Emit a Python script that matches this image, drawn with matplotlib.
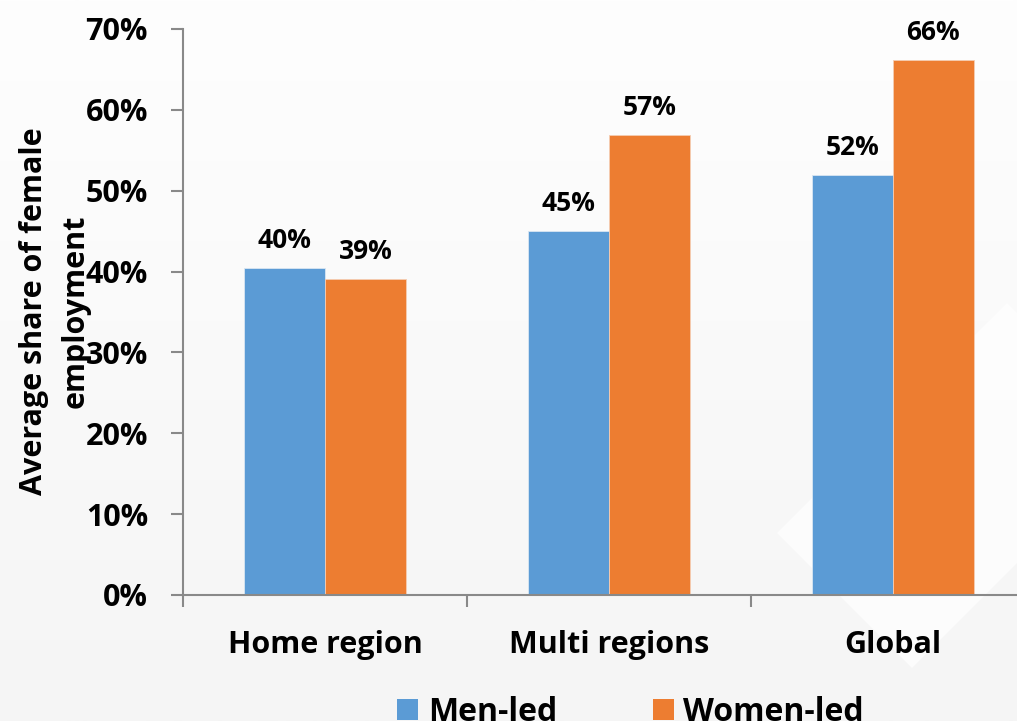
import matplotlib.pyplot as plt
from matplotlib.patches import Polygon, Patch
import numpy as np

categories = ["Home region", "Multi regions", "Global"]
men_led = [0.404, 0.450, 0.519]
women_led = [0.391, 0.569, 0.662]
series_names = ["Men-led", "Women-led"]
y_ticks = [0, 0.1, 0.2, 0.3, 0.4, 0.5, 0.6, 0.7]

blue = "#5B9BD5"
orange = "#ED7D31"
axis_gray = "#898989"
label_font = ["Open Sans", "DejaVu Sans"]

fig = plt.figure(figsize=(10.17, 7.21), dpi=100)

# soft grey backdrop with a faint white diamond on the right
bg = fig.add_axes([0, 0, 1, 1], zorder=-10)
grad = np.linspace(0, 1, 256).reshape(-1, 1)
bg.imshow(grad, cmap=plt.matplotlib.colors.LinearSegmentedColormap.from_list(
    "bg", ["#fefefe", "#f5f5f5"]), aspect="auto", extent=[0, 1017, 721, 0])
bg.add_patch(Polygon([[777, 533], [1007, 303], [1142, 438], [912, 668]],
                     closed=True, facecolor="white", edgecolor="none", alpha=0.7))
bg.set_xlim(0, 1017)
bg.set_ylim(721, 0)
bg.axis("off")

ax = fig.add_axes([0.1804, 0.1748, 0.8369, 0.785])
ax.patch.set_alpha(0)

x = np.arange(len(categories))
w = 0.2855
b1 = ax.bar(x - w / 2, men_led, w, color=blue, edgecolor="#d9e6f2", linewidth=0.6)
b2 = ax.bar(x + w / 2, women_led, w, color=orange, edgecolor="#f5cdb3", linewidth=0.6)

for bars in (b1, b2):
    for rect in bars:
        v = rect.get_height()
        ax.annotate(f"{v * 100:.0f}%", (rect.get_x() + rect.get_width() / 2, v),
                    xytext=(0, 10), textcoords="offset points",
                    ha="center", va="bottom", fontsize=19, fontweight="bold",
                    family=label_font)

ax.set_xlim(-0.5, 2.5)
ax.set_ylim(0, 0.7)
ax.set_yticks(y_ticks)
ax.set_yticklabels([f"{int(round(t * 100))}%" for t in y_ticks],
                   fontsize=22, fontweight="bold", family=label_font)
ax.tick_params(axis="y", length=8.5, width=1.5, color=axis_gray, pad=17)

# category boundary ticks and centred category names
ax.set_xticks([-0.5, 0.5, 1.5, 2.5])
ax.set_xticklabels([])
ax.tick_params(axis="x", which="major", length=8.5, width=1.5, color=axis_gray)
ax.set_xticks(x, minor=True)
ax.set_xticklabels(categories, minor=True, fontsize=22, fontweight="bold",
                   family=label_font)
ax.tick_params(axis="x", which="minor", length=0, pad=25)

for side in ("top", "right"):
    ax.spines[side].set_visible(False)
for side in ("left", "bottom"):
    ax.spines[side].set_color(axis_gray)
    ax.spines[side].set_linewidth(1.5)

fig.text(0.054, 0.568, "Average share of female\nemployment", rotation=90,
         ha="center", va="center", fontsize=22, fontweight="bold",
         family=label_font, linespacing=1.5, multialignment="center")

handles = [Patch(facecolor=blue), Patch(facecolor=orange)]
fig.legend(handles, series_names, loc="center", bbox_to_anchor=(0.62, 0.012),
           ncol=2, frameon=False, prop={"family": label_font, "weight": "bold", "size": 23},
           handlelength=0.65, handleheight=0.65, handletextpad=0.3, columnspacing=3.0)

plt.savefig("out.png", dpi=100)
